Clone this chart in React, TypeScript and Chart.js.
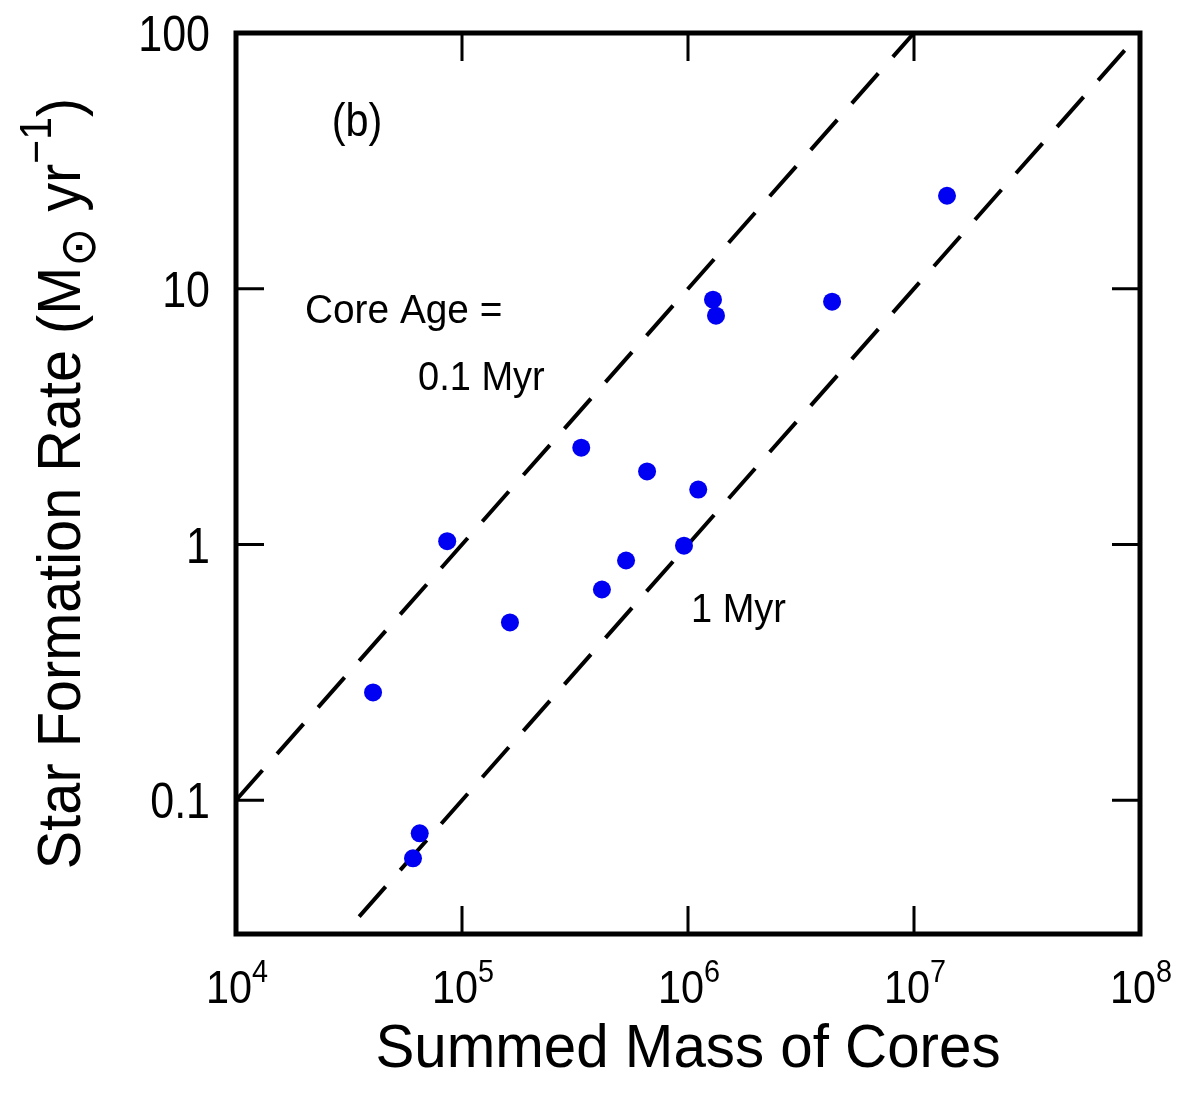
import React, { useEffect, useRef } from 'react';
import Chart from 'chart.js/auto';

// Observed cores: summed mass (Msun) and star formation rate (Msun/yr)
const massValues = [4.04e4, 8.6e4, 6.5e4, 6.07e4, 1.63e5, 3.37e5, 4.16e5, 5.32e5, 6.59e5, 9.6e5, 1.11e6, 1.29e6, 1.33e6, 4.34e6, 1.4e7];
const sfrValues = [0.264, 1.03, 0.0743, 0.0593, 0.496, 2.39, 0.667, 0.866, 1.93, 0.99, 1.64, 9.06, 7.85, 8.9, 23.1];

// Core-age reference lines: SFR = M / age
const age01Mass = [1e4, 1e7];
const age01Sfr = [0.1, 100];
const age1Mass = [1e4, 1e8];
const age1Sfr = [0.01, 100];

// Axis ticks
const xTickValues = [1e4, 1e5, 1e6, 1e7, 1e8];
const xTickExponents = ['4', '5', '6', '7', '8'];
const yTickValues = [100, 10, 1, 0.1];
const yTickLabels = ['100', '10', '1', '0.1'];

const xTitle = 'Summed Mass of Cores';
const panelLabel = '(b)';
const coreAgeLabel = 'Core Age =';
const age01Label = '0.1 Myr';
const age1Label = '1 Myr';

const FONT = '"Liberation Sans", Arial, Helvetica, sans-serif';
const SYM_FONT = '"DejaVu Sans", "Liberation Sans", sans-serif';

type Seg = { text: string; size: number; dy?: number; family?: string };

function drawRich(
  ctx: CanvasRenderingContext2D,
  segs: Seg[],
  x: number,
  y: number,
  align: 'left' | 'center' | 'right',
  sx = 1
) {
  ctx.textAlign = 'left';
  ctx.textBaseline = 'alphabetic';
  let total = 0;
  const widths: number[] = [];
  for (const s of segs) {
    ctx.font = `${s.size}px ${s.family || FONT}`;
    const w = ctx.measureText(s.text).width;
    widths.push(w);
    total += w;
  }
  const shown = total * sx;
  const start = align === 'left' ? x : align === 'center' ? x - shown / 2 : x - shown;
  ctx.save();
  ctx.translate(start, y);
  ctx.scale(sx, 1);
  let cx = 0;
  segs.forEach((s, i) => {
    ctx.font = `${s.size}px ${s.family || FONT}`;
    ctx.fillText(s.text, cx, s.dy || 0);
    cx += widths[i];
  });
  ctx.restore();
}

const framePlugin = {
  id: 'framePlugin',
  afterDraw(chart: any) {
    const ctx: CanvasRenderingContext2D = chart.ctx;
    const { left, right, top, bottom } = chart.chartArea;
    const xs = chart.scales.x;
    const ys = chart.scales.y;
    ctx.save();
    ctx.strokeStyle = '#000';
    ctx.fillStyle = '#000';

    // frame
    ctx.lineWidth = 5;
    ctx.lineJoin = 'miter';
    ctx.strokeRect(left, top, right - left, bottom - top);

    // inward ticks
    const tl = 28;
    ctx.lineWidth = 3;
    ctx.beginPath();
    xTickValues.forEach((v) => {
      const px = xs.getPixelForValue(v);
      if (px <= left + 2 || px >= right - 2) return;
      ctx.moveTo(px, bottom);
      ctx.lineTo(px, bottom - tl);
      ctx.moveTo(px, top);
      ctx.lineTo(px, top + tl);
    });
    yTickValues.forEach((v) => {
      const py = ys.getPixelForValue(v);
      if (py <= top + 2 || py >= bottom - 2) return;
      ctx.moveTo(left, py);
      ctx.lineTo(left + tl, py);
      ctx.moveTo(right, py);
      ctx.lineTo(right - tl, py);
    });
    ctx.stroke();

    // x tick labels (10^n)
    xTickValues.forEach((v, i) => {
      const px = xs.getPixelForValue(v);
      drawRich(ctx, [
        { text: '10', size: 46 },
        { text: xTickExponents[i], size: 32, dy: -21 },
      ], px + 1, bottom + 69, 'center', 0.9);
    });

    // y tick labels
    yTickValues.forEach((v, i) => {
      const py = ys.getPixelForValue(v);
      drawRich(ctx, [{ text: yTickLabels[i], size: 50 }], left - 26, py + 18, 'right', 0.86);
    });

    // x title
    drawRich(ctx, [{ text: xTitle, size: 62 }], (left + right) / 2, bottom + 133, 'center', 0.94);

    // y title (rotated)
    ctx.save();
    ctx.translate(80, (top + bottom) / 2);
    ctx.rotate(-Math.PI / 2);
    drawRich(ctx, [
      { text: 'Star Formation Rate (M', size: 62 },
      { text: '\u2299', size: 50, dy: 15, family: SYM_FONT },
      { text: ' yr', size: 62 },
      { text: '\u22121', size: 44, dy: -29 },
      { text: ')', size: 62 },
    ], 0, 0, 'center', 0.93);
    ctx.restore();

    // annotations
    drawRich(ctx, [{ text: panelLabel, size: 46 }], left + 121, top + 103, 'center', 0.9);
    drawRich(ctx, [{ text: coreAgeLabel, size: 40 }], left + 69, top + 290, 'left', 0.97);
    drawRich(ctx, [{ text: age01Label, size: 40 }], left + 182, top + 357, 'left', 0.95);
    drawRich(ctx, [{ text: age1Label, size: 40 }], left + 455, top + 589, 'left', 0.95);

    ctx.restore();
  },
};

export default function App() {
  const canvasRef = useRef<HTMLCanvasElement | null>(null);

  useEffect(() => {
    document.body.style.margin = '0';
    const canvas = canvasRef.current;
    if (!canvas) return;
    const chart = new Chart(canvas, {
      type: 'scatter',
      data: {
        datasets: [
          {
            label: 'cores',
            data: massValues.map((m, i) => ({ x: m, y: sfrValues[i] })),
            backgroundColor: '#0000f2',
            borderColor: '#0000f2',
            pointRadius: 9,
            pointBorderWidth: 0,
            showLine: false,
            order: 0,
          },
          {
            label: '0.1 Myr',
            type: 'line',
            data: age01Mass.map((m, i) => ({ x: m, y: age01Sfr[i] })),
            borderColor: '#000',
            borderWidth: 4,
            borderDash: [40, 22],
            pointRadius: 0,
            fill: false,
            order: 1,
          },
          {
            label: '1 Myr',
            type: 'line',
            data: age1Mass.map((m, i) => ({ x: m, y: age1Sfr[i] })),
            borderColor: '#000',
            borderWidth: 4,
            borderDash: [40, 22],
            pointRadius: 0,
            fill: false,
            order: 1,
          },
        ],
      },
      options: {
        animation: false,
        responsive: true,
        maintainAspectRatio: false,
        layout: { padding: { left: 236, right: 39, top: 33, bottom: 161 } },
        plugins: { legend: { display: false }, tooltip: { enabled: false } },
        scales: {
          x: { type: 'logarithmic', min: 1e4, max: 1e8, display: false },
          y: { type: 'logarithmic', min: 0.03, max: 100, display: false },
        },
      },
      plugins: [framePlugin],
    } as any);
    return () => chart.destroy();
  }, []);

  return (
    <div style={{ width: 1179, height: 1095, position: 'relative', background: '#fff' }}>
      <canvas ref={canvasRef} />
    </div>
  );
}
